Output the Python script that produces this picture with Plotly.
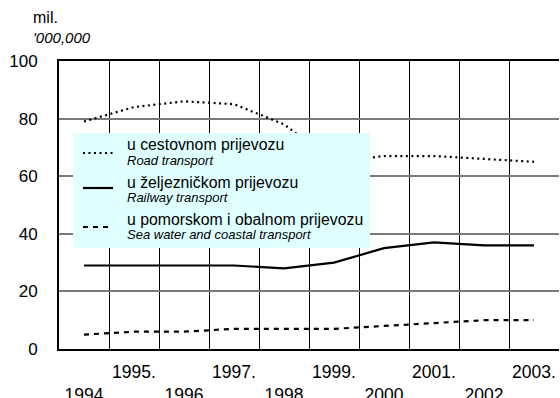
import plotly.graph_objects as go

# Goods transported by mode, millions of tonnes
years = [1994, 1995, 1996, 1997, 1998, 1999, 2000, 2001, 2002, 2003]
year_labels = ["<br>1994", "1995.", "<br>1996", "1997.", "<br>1998", "1999.",
               "<br>2000", "2001.", "<br>2002", "2003."]
road = [79, 84, 86, 85, 78, 65, 67, 67, 66, 65]
railway = [29, 29, 29, 29, 28, 30, 35, 37, 36, 36]
sea = [5, 6, 6, 7, 7, 7, 8, 9, 10, 10]

series_hr = ["u cestovnom prijevozu", "u željezničkom prijevozu",
             "u pomorskom i obalnom prijevozu"]
series_en = ["Road transport", "Railway transport", "Sea water and coastal transport"]
y_ticks = [0, 20, 40, 60, 80, 100]

W, H = 560, 398
L, R, T, B = 59, 1, 61, 49
FONT = "Liberation Sans, Arial, sans-serif"

styles = [
    dict(color="black", width=2.2, dash="2px,3.5px"),
    dict(color="black", width=2.2, dash="solid"),
    dict(color="black", width=2.2, dash="5px,5px"),
]

fig = go.Figure()
for vals, st, name in zip([road, railway, sea], styles, series_en):
    fig.add_trace(go.Scatter(x=years, y=vals, mode="lines", line=st,
                             name=name, showlegend=False))


def px(x):
    return (x - L) / (W - L - R)


def py(y):
    return 1 - (y - T) / (H - T - B)


# legend panel
fig.add_shape(type="rect", xref="paper", yref="paper",
              x0=px(73), x1=px(370), y0=py(248), y1=py(133),
              fillcolor="#e0ffff", line=dict(width=0), layer="above")

sample_y = [153, 188, 227]
text_y = [(144, 160), (182, 197), (219, 234)]
for st, sy, (ty1, ty2), hr, en in zip(styles, sample_y, text_y, series_hr, series_en):
    fig.add_shape(type="line", xref="paper", yref="paper",
                  x0=px(83), x1=px(113), y0=py(sy), y1=py(sy),
                  line=st, layer="above")
    fig.add_annotation(xref="paper", yref="paper", x=px(125), y=py(ty1),
                       text=hr, showarrow=False, xanchor="left", yanchor="middle",
                       font=dict(family=FONT, size=15.8, color="black"))
    fig.add_annotation(xref="paper", yref="paper", x=px(125), y=py(ty2),
                       text="<i>" + en + "</i>", showarrow=False, xanchor="left",
                       yanchor="middle", font=dict(family=FONT, size=13, color="black"))

# unit label
fig.add_annotation(xref="paper", yref="paper", x=px(31), y=py(18), text="mil.",
                   showarrow=False, xanchor="left", yanchor="middle",
                   font=dict(family=FONT, size=16, color="black"))
fig.add_annotation(xref="paper", yref="paper", x=px(31), y=py(37), text="<i>'000,000</i>",
                   showarrow=False, xanchor="left", yanchor="middle",
                   font=dict(family=FONT, size=15, color="black"))

# year boundaries carry the vertical grid
boundaries = [y + 0.5 for y in years[:-1]]

fig.update_layout(
    width=W, height=H,
    margin=dict(l=L, r=R, t=T, b=B),
    paper_bgcolor="white", plot_bgcolor="white",
    font=dict(family=FONT, size=17, color="black"),
    showlegend=False,
    xaxis=dict(range=[years[0] - 0.5, years[-1] + 0.5], tickmode="array",
               tickvals=years, ticktext=year_labels, tickangle=0, automargin=False,
               ticks="", showgrid=False, zeroline=False,
               showline=True, linecolor="black", linewidth=2, mirror=True,
               minor=dict(tickmode="array", tickvals=boundaries, showgrid=True,
                          gridcolor="black", gridwidth=1, ticks=""),
               tickfont=dict(size=17.5), ticklabelstandoff=6),
    yaxis=dict(range=[0, 100], tickvals=y_ticks, showgrid=True, gridcolor="#7a7a7a",
               gridwidth=1.5, showline=True, linecolor="black", linewidth=2,
               ticks="", ticklabelstandoff=16, zeroline=False, automargin=False,
               tickfont=dict(size=17)),
)

fig.write_html("out.html")
